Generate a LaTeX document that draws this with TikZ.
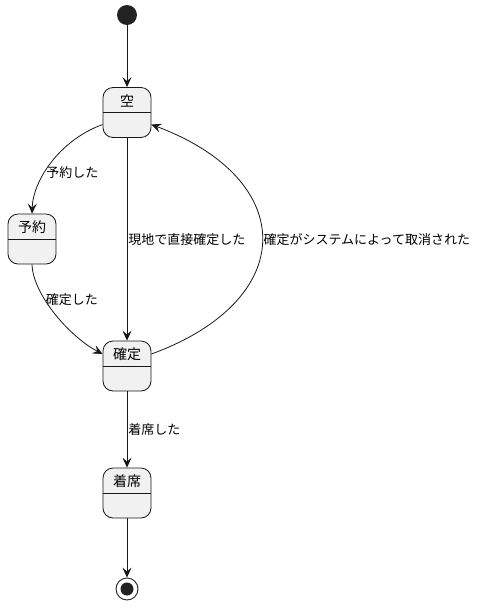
\documentclass[tikz,border=0pt]{standalone}
\usepackage{fontspec}
\setmainfont{Noto Sans CJK JP}
\usepackage{tikz}
\usetikzlibrary{arrows.meta,positioning,calc}
\definecolor{edge}{RGB}{24,24,24}
\definecolor{statefill}{RGB}{241,241,241}
\definecolor{dot}{RGB}{34,34,34}

\begin{document}
\begin{tikzpicture}[x=1pt, y=-1pt,
        state/.style={rectangle, draw=edge, fill=statefill, line width=0.8pt, rounded corners=10pt,
                      minimum width=48pt, inner sep=0pt, text height=18.5pt, text depth=31.5pt,
                      font=\fontsize{14}{16}\selectfont,
                      path picture={\draw[edge, line width=0.8pt]
                        ([yshift=-25pt]path picture bounding box.north west) --
                        ([yshift=-25pt]path picture bounding box.north east);}},
        tr/.style={-{Stealth[length=10pt,width=9pt,inset=4pt]}, edge, line width=0.8pt},
        lbl/.style={font=\fontsize{13}{15}\selectfont, text=black, inner sep=1pt}
      ]
        \fill[white] (0,0) rectangle (486,614);
        \useasboundingbox (0,0) rectangle (486,614);

        \node[circle, fill=dot, minimum size=20pt, inner sep=0pt] (start) at (127,15) {};
        \node[state] (kara) at (127,112.5) {空};
        \node[state] (yoyaku) at (32,239) {予約};
        \node[state] (kakutei) at (127,366) {確定};
        \node[state] (chakuseki) at (127,493) {着席};
        \node[circle, draw=dot, line width=0.9pt, fill=white, minimum size=22pt, inner sep=0pt,
              path picture={\fill[dot] (path picture bounding box.center) circle (6.5pt);}] (stop) at (127,589) {};

        \draw[tr] (start) -- (kara);
        \draw[tr] ([yshift=-12pt]kara.west) .. controls (60,140) and (33,180) .. (yoyaku.north)
            node[lbl, pos=0.6, right] {予約した};
        \draw[tr] (kara) -- (kakutei) node[lbl, midway, right] {現地で直接確定した};
        \draw[tr] (yoyaku.south) .. controls (33,295) and (70,337) .. ([yshift=12pt]kakutei.west)
            node[lbl, pos=0.35, right] {確定した};
        \draw[tr] ([yshift=12pt]kakutei.east) .. controls (299,300) and (299,180) .. ([yshift=-12pt]kara.east)
            node[lbl, pos=0.5, right] {確定がシステムによって取消された};
        \draw[tr] (kakutei) -- (chakuseki) node[lbl, midway, right] {着席した};
        \draw[tr] (chakuseki) -- (stop);
      \end{tikzpicture}
\end{document}
